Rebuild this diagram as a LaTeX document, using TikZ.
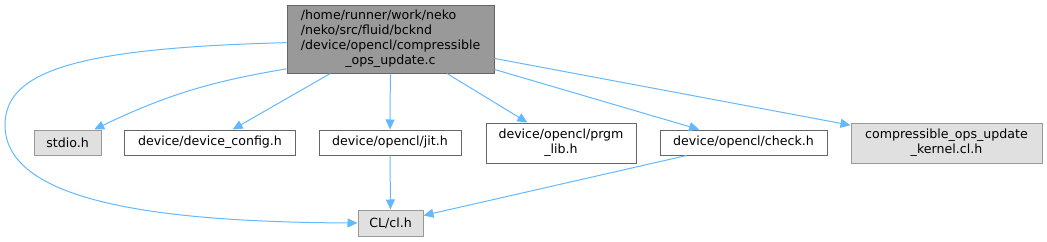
\documentclass[tikz,border=0pt]{standalone}
\usepackage{fontspec}
\setmainfont{DejaVu Sans}
\usetikzlibrary{arrows.meta}

\definecolor{edgeblue}{HTML}{63B8FF}
\definecolor{maingray}{HTML}{999999}
\definecolor{maindraw}{HTML}{666666}
\definecolor{sysgray}{HTML}{E0E0E0}
\definecolor{sysdraw}{HTML}{999999}

\begin{document}
\begin{tikzpicture}[x=1pt, y=-1pt,
		font=\fontsize{12.6}{15}\selectfont,
		box/.style={draw=maindraw, fill=white, line width=1pt, inner sep=0pt, align=center},
		sysbox/.style={box, draw=sysdraw, fill=sysgray},
		mainbox/.style={box, fill=maingray},
		edge/.style={draw=edgeblue, line width=1pt, -{Triangle[length=10pt,width=9pt]}}]
		\useasboundingbox (0,0) rectangle (1047,241);

		% file itself
		\node[mainbox, minimum width=207pt, minimum height=68pt] (main) at (390.5,39) {\begin{tabular}{@{}l@{}}/home/runner/work/neko\\/neko/src/fluid/bcknd\\/device/opencl/compressible\\\multicolumn{1}{@{}c@{}}{\_ops\_update.c}\end{tabular}};

		% included headers
		\node[sysbox, minimum width=67pt, minimum height=25pt] (stdio) at (67.5,142.5) {stdio.h};
		\node[box, minimum width=171pt, minimum height=25pt] (devcfg) at (210,142.5) {device/device\_config.h};
		\node[box, minimum width=142pt, minimum height=25pt] (jit) at (390,142.5) {device/opencl/jit.h};
		\node[box, minimum width=150pt, minimum height=40pt] (prgm) at (561,143) {device/opencl/prgm\\\_lib.h};
		\node[box, minimum width=167pt, minimum height=25pt] (check) at (743.5,142.5) {device/opencl/check.h};
		\node[sysbox, minimum width=191pt, minimum height=40pt] (kernel) at (946.5,143) {compressible\_ops\_update\\\_kernel.cl.h};
		\node[sysbox, minimum width=65pt, minimum height=26pt] (cl) at (390.5,223) {CL/cl.h};

		\draw[edge] (main.196) to[bend right=8] (stdio.26);
		\draw[edge] (main) -- (devcfg);
		\draw[edge] (main) -- (jit);
		\draw[edge] (main) -- (prgm);
		\draw[edge] (main) -- (check);
		\draw[edge] (main) -- (kernel);
		\draw[edge] (main.182) .. controls (80,48) and (5,70) .. (5,125) .. controls (5,200) and (150,222) .. (cl.west);
		\draw[edge] (jit) -- (cl);
		\draw[edge] (check) -- (cl);
	\end{tikzpicture}
\end{document}
